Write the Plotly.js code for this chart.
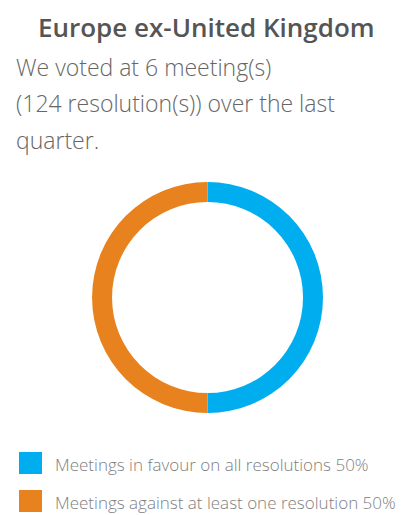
<!DOCTYPE html>
<html>
<head>
<meta charset="utf-8">
<script src="https://cdn.plot.ly/plotly-3.0.1.min.js"></script>
<style>html,body{margin:0;padding:0;background:#fff;}#chart{width:413px;height:515px;}</style>
</head>
<body>
<div id="chart"></div>
<script>
var chartTitle = "Europe ex-United Kingdom";
var subtitleLines = ["We voted at 6 meeting(s)", "(124 resolution(s)) over the last", "quarter."];
var categories = ["Meetings in favour on all resolutions", "Meetings against at least one resolution"];
var values = [3, 3];
var percents = ["50%", "50%"];
var colors = ["#00AEEF", "#E8821E"];

var W = 413, H = 515;
function py(p) { return 1 - p / H; }
function px(p) { return p / W; }

var annotations = [];
annotations.push({
  text: chartTitle, xref: "paper", yref: "paper", x: 0.5, y: py(27),
  xanchor: "center", yanchor: "middle", showarrow: false,
  font: {family: "Open Sans", size: 26, color: "#555555", weight: 600}
});
var lineY = [67, 103, 140];
subtitleLines.forEach(function (t, i) {
  annotations.push({
    text: t, xref: "paper", yref: "paper", x: px(14), y: py(lineY[i]),
    xanchor: "left", yanchor: "middle", showarrow: false,
    font: {family: "Open Sans", size: 23, color: "#666666", weight: 300}
  });
});
var shapes = [];
var legY = [463, 501];
categories.forEach(function (c, i) {
  shapes.push({
    type: "rect", xref: "paper", yref: "paper",
    x0: px(19), x1: px(42), y0: py(legY[i] - 11), y1: py(legY[i] + 11),
    fillcolor: colors[i], line: {width: 0}
  });
  annotations.push({
    text: c + " " + percents[i], xref: "paper", yref: "paper", x: px(53), y: py(legY[i] + 1),
    xanchor: "left", yanchor: "middle", showarrow: false,
    font: {family: "Open Sans", size: 17, color: "#808080", weight: 300}
  });
});

var data = [{
  type: "pie",
  labels: categories,
  values: values,
  hole: 0.827,
  sort: false,
  direction: "clockwise",
  rotation: 0,
  marker: {colors: colors, line: {width: 0}},
  textinfo: "none",
  hoverinfo: "label+percent",
  domain: {x: [px(92), px(323)], y: [py(413), py(182)]},
  showlegend: false
}];

var layout = {
  width: W, height: H,
  margin: {l: 0, r: 0, t: 0, b: 0},
  paper_bgcolor: "#ffffff",
  showlegend: false,
  annotations: annotations,
  shapes: shapes
};

Plotly.newPlot("chart", data, layout, {displayModeBar: false, staticPlot: true});
</script>
</body>
</html>
